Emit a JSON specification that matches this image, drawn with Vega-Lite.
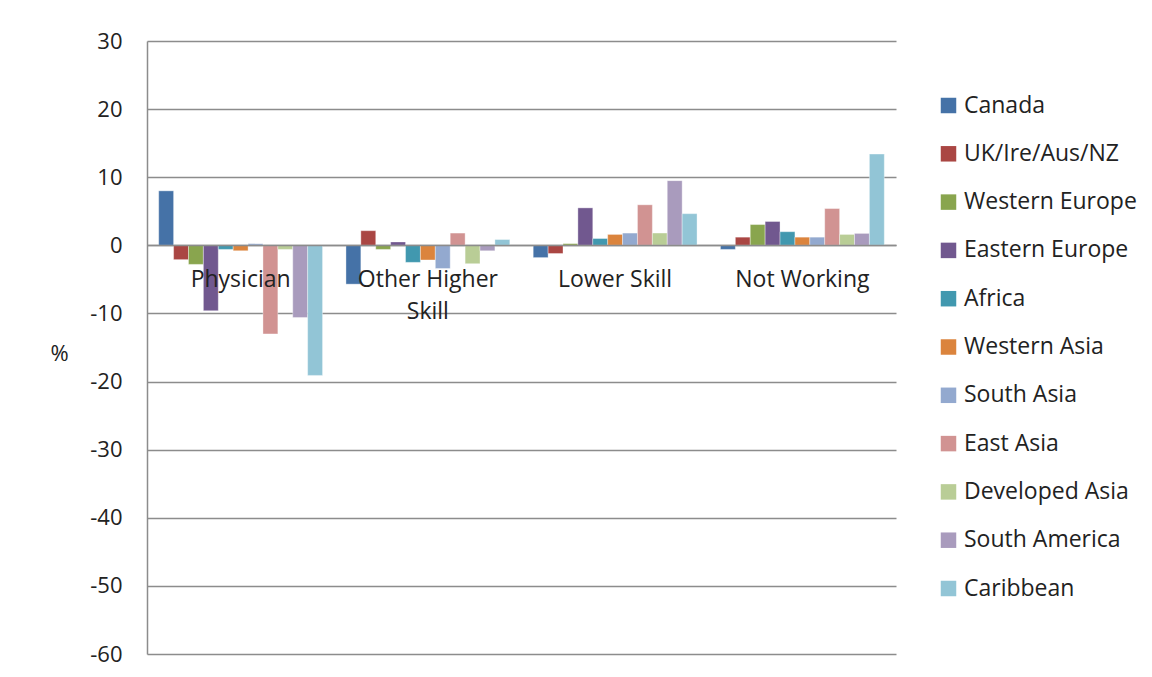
{
  "$schema": "https://vega.github.io/schema/vega-lite/v6.json",
  "width": 749,
  "height": 613,
  "autosize": "none",
  "padding": {"left": 147, "top": 41, "right": 256, "bottom": 23},
  "background": "white",
  "config": {
    "font": "Open Sans",
    "view": {"stroke": null}
  },
  "data": {
    "values": [
      {"category": "Physician", "region": "Canada", "value": 8.0},
      {"category": "Physician", "region": "UK/Ire/Aus/NZ", "value": -2.1},
      {"category": "Physician", "region": "Western Europe", "value": -2.8},
      {"category": "Physician", "region": "Eastern Europe", "value": -9.6},
      {"category": "Physician", "region": "Africa", "value": -0.6},
      {"category": "Physician", "region": "Western Asia", "value": -0.8},
      {"category": "Physician", "region": "South Asia", "value": 0.25},
      {"category": "Physician", "region": "East Asia", "value": -13.0},
      {"category": "Physician", "region": "Developed Asia", "value": -0.6},
      {"category": "Physician", "region": "South America", "value": -10.6},
      {"category": "Physician", "region": "Caribbean", "value": -19.1},
      {"category": "Other Higher Skill", "region": "Canada", "value": -5.7},
      {"category": "Other Higher Skill", "region": "UK/Ire/Aus/NZ", "value": 2.15},
      {"category": "Other Higher Skill", "region": "Western Europe", "value": -0.6},
      {"category": "Other Higher Skill", "region": "Eastern Europe", "value": 0.5},
      {"category": "Other Higher Skill", "region": "Africa", "value": -2.5},
      {"category": "Other Higher Skill", "region": "Western Asia", "value": -2.15},
      {"category": "Other Higher Skill", "region": "South Asia", "value": -3.4},
      {"category": "Other Higher Skill", "region": "East Asia", "value": 1.8},
      {"category": "Other Higher Skill", "region": "Developed Asia", "value": -2.7},
      {"category": "Other Higher Skill", "region": "South America", "value": -0.8},
      {"category": "Other Higher Skill", "region": "Caribbean", "value": 0.85},
      {"category": "Lower Skill", "region": "Canada", "value": -1.8},
      {"category": "Lower Skill", "region": "UK/Ire/Aus/NZ", "value": -1.2},
      {"category": "Lower Skill", "region": "Western Europe", "value": 0.25},
      {"category": "Lower Skill", "region": "Eastern Europe", "value": 5.5},
      {"category": "Lower Skill", "region": "Africa", "value": 1.0},
      {"category": "Lower Skill", "region": "Western Asia", "value": 1.6},
      {"category": "Lower Skill", "region": "South Asia", "value": 1.8},
      {"category": "Lower Skill", "region": "East Asia", "value": 5.95},
      {"category": "Lower Skill", "region": "Developed Asia", "value": 1.8},
      {"category": "Lower Skill", "region": "South America", "value": 9.5},
      {"category": "Lower Skill", "region": "Caribbean", "value": 4.65},
      {"category": "Not Working", "region": "Canada", "value": -0.6},
      {"category": "Not Working", "region": "UK/Ire/Aus/NZ", "value": 1.2},
      {"category": "Not Working", "region": "Western Europe", "value": 3.05},
      {"category": "Not Working", "region": "Eastern Europe", "value": 3.5},
      {"category": "Not Working", "region": "Africa", "value": 2.0},
      {"category": "Not Working", "region": "Western Asia", "value": 1.2},
      {"category": "Not Working", "region": "South Asia", "value": 1.2},
      {"category": "Not Working", "region": "East Asia", "value": 5.4},
      {"category": "Not Working", "region": "Developed Asia", "value": 1.6},
      {"category": "Not Working", "region": "South America", "value": 1.75},
      {"category": "Not Working", "region": "Caribbean", "value": 13.4}
    ]
  },
  "mark": {"type": "bar", "stroke": "white", "strokeWidth": 0.6, "strokeOpacity": 0.6},
  "encoding": {
    "x": {
      "field": "category",
      "type": "nominal",
      "sort": ["Physician", "Other Higher Skill", "Lower Skill", "Not Working"],
      "scale": {"paddingInner": 0.125, "paddingOuter": 0.0625},
      "axis": {
        "title": null,
        "orient": "bottom",
        "offset": -409,
        "labelAngle": 0,
        "labelFont": "Open Sans",
        "labelFontSize": 23,
        "labelColor": "#222222",
        "labelPadding": 23,
        "labelLineHeight": 32,
        "labelExpr": "datum.label == 'Other Higher Skill' ? ['Other Higher', 'Skill'] : datum.label",
        "ticks": false,
        "domainColor": "#8c8c8c",
        "domainWidth": 1.5,
        "grid": false,
        "zindex": 1
      }
    },
    "xOffset": {
      "field": "region",
      "type": "nominal",
      "sort": ["Canada", "UK/Ire/Aus/NZ", "Western Europe", "Eastern Europe", "Africa", "Western Asia", "South Asia", "East Asia", "Developed Asia", "South America", "Caribbean"],
      "scale": {"paddingInner": 0, "paddingOuter": 0}
    },
    "y": {
      "field": "value",
      "type": "quantitative",
      "scale": {"domain": [-60, 30], "nice": false},
      "axis": {
        "values": [-60, -50, -40, -30, -20, -10, 0, 10, 20, 30],
        "labelExpr": "toString(datum.value)",
        "title": "%",
        "titleAngle": 0,
        "titleX": -88,
        "titleY": 312,
        "titleAlign": "center",
        "titleBaseline": "middle",
        "titleFont": "Open Sans",
        "titleFontSize": 22,
        "titleFontWeight": "normal",
        "titleColor": "#222222",
        "labelFont": "Open Sans",
        "labelFontSize": 22,
        "labelColor": "#222222",
        "labelPadding": 25,
        "ticks": false,
        "domainColor": "#8c8c8c",
        "domainWidth": 1.5,
        "gridColor": "#8c8c8c",
        "gridWidth": 1.5
      }
    },
    "color": {
      "field": "region",
      "type": "nominal",
      "scale": {
        "domain": ["Canada", "UK/Ire/Aus/NZ", "Western Europe", "Eastern Europe", "Africa", "Western Asia", "South Asia", "East Asia", "Developed Asia", "South America", "Caribbean"],
        "range": ["#4572A7", "#AA4643", "#89A54E", "#71588F", "#4198AF", "#DB843D", "#93A9CF", "#D19392", "#B9CD96", "#A99BBD", "#92C5D6"]
      },
      "legend": {
        "title": null,
        "orient": "none",
        "legendX": 790,
        "legendY": 53,
        "symbolType": "square",
        "symbolSize": 240,
        "symbolStrokeWidth": 0,
        "labelFont": "Open Sans",
        "labelFontSize": 23,
        "labelColor": "#222222",
        "labelOffset": 4,
        "rowPadding": 24.3,
        "labelLimit": 300
      }
    }
  }
}
